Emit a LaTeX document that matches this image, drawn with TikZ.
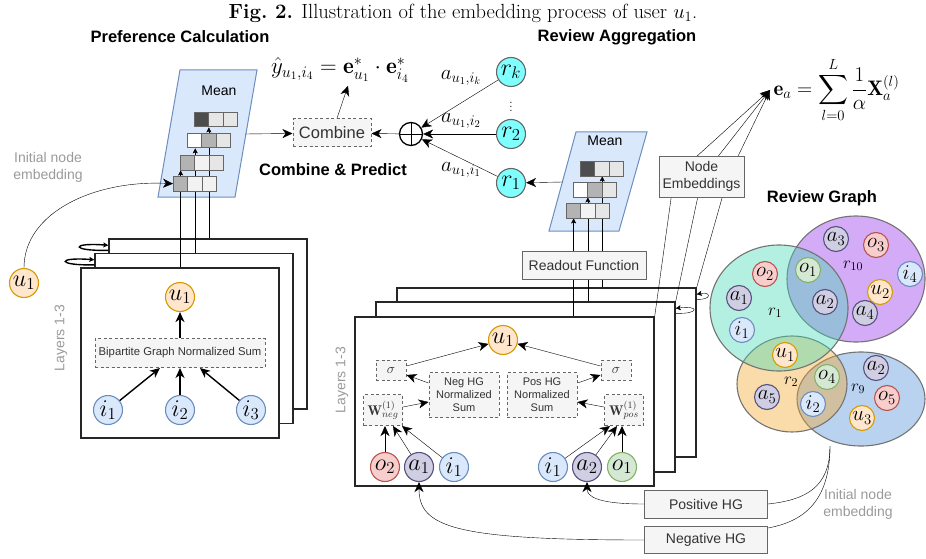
\RequirePackage{fix-cm}
\documentclass[tikz,border=0pt]{standalone}
\usepackage{fontspec}
\usepackage{amsmath}
\usetikzlibrary{arrows.meta}
\newfontfamily\hv{Liberation Sans}
\pgfdeclarelayer{front}
\pgfsetlayers{main,front}
\definecolor{boxgray}{HTML}{666666}
\definecolor{boxfill}{HTML}{F5F5F5}
\definecolor{txtgray}{HTML}{9A9A9A}
\definecolor{meanfill}{HTML}{DAE8FC}
\definecolor{meanline}{HTML}{6C8EBF}
\definecolor{cdark}{HTML}{4D4D4D}
\definecolor{cmid}{HTML}{B3B3B3}
\definecolor{clight}{HTML}{E6E6E6}
\definecolor{cpale}{HTML}{F2F2F2}
\definecolor{ufill}{HTML}{FFE6CC}
\definecolor{uline}{HTML}{D79B00}
\definecolor{ifill}{HTML}{DAE8FC}
\definecolor{iline}{HTML}{6C8EBF}
\definecolor{ofill}{HTML}{F8CECC}
\definecolor{oline}{HTML}{B85450}
\definecolor{gfill}{HTML}{D5E8D4}
\definecolor{gline}{HTML}{82B366}
\definecolor{afill}{HTML}{D0CEE2}
\definecolor{aline}{HTML}{56517E}
\definecolor{rfill}{HTML}{80FFFF}
\definecolor{rgone}{RGB}{67,217,180}
\definecolor{rgten}{RGB}{144,44,233}
\definecolor{rgtwo}{RGB}{242,167,42}
\definecolor{rgnine}{RGB}{80,142,217}

\begin{document}
\begin{tikzpicture}[x=1pt,y=-1pt,line width=1.4pt,
    >={Stealth[length=10pt,width=9pt,inset=3pt]},
    sarr/.style={-{Stealth[length=5pt,width=5pt,inset=1pt]}},
    head/.style={font=\hv\bfseries\fontsize{16.5}{19}\selectfont},
    gtext/.style={font=\hv\fontsize{14}{17}\selectfont,text=txtgray,align=center},
    dbox/.style={draw=boxgray,fill=boxfill,dash pattern=on 3pt off 2.5pt,line width=1pt,inner sep=0pt,text=black!80},
    sbox/.style={draw=boxgray,fill=boxfill,line width=1pt,inner sep=0pt,text=black!80,align=center,font=\hv\fontsize{14}{16.5}\selectfont},
    layer/.style={draw=black!85,fill=white,line width=1.4pt,inner sep=0pt},
    meanbox/.style={draw=meanline,fill=meanfill,line width=1pt},
    cell/.style={draw=boxgray,line width=0.9pt,minimum width=14.3pt,minimum height=14.5pt,inner sep=0pt,anchor=north west},
    nd/.style={circle,line width=1.1pt,minimum size=29pt,inner sep=0pt,font=\fontsize{24}{26}\selectfont},
    unode/.style={nd,draw=uline,fill=ufill},
    inode/.style={nd,draw=iline,fill=ifill},
    onode/.style={nd,draw=oline,fill=ofill},
    gnode/.style={nd,draw=gline,fill=gfill},
    anode/.style={nd,draw=aline,fill=afill},
    rnode/.style={nd,draw=black!60,fill=rfill},
    sm/.style={minimum size=25pt,font=\fontsize{21}{23}\selectfont},
    rset/.style={draw=black!55,line width=1.1pt,fill opacity=0.4}]
  \useasboundingbox (0,0) rectangle (926,559);

  \node (cap) at (463,13) {\fontsize{20.5}{23}\selectfont\textbf{Fig.~2.} Illustration of the embedding process of user $u_1$.};
  \node[head] (hpref) at (180,37) {Preference Calculation};
  \node[head] (hrev) at (617,37) {Review Aggregation};
  \node[head] (hcomb) at (333,170) {Combine \& Predict};
  \node[head] (hgraph) at (822,198) {Review Graph};

  \node[layer,minimum width=198pt,minimum height=170pt] (lback) at (208,324) {};
  \node[layer,minimum width=198pt,minimum height=170pt] (lmid) at (194,338.5) {};
  \node[layer,minimum width=198pt,minimum height=170pt] (lfront) at (180,353) {};
  \draw[sarr] ([yshift=-12pt]lmid.north west) .. controls +(-38,1) and +(-38,-3) .. ([yshift=-7pt]lmid.north west);
  \draw[sarr] ([yshift=-12pt]lback.north west) .. controls +(-38,1) and +(-38,-3) .. ([yshift=-7pt]lback.north west);
  \node[gtext,rotate=90] (llayers) at (61,338) {Layers 1-3};
  \node[unode] (lu1) at (180,297) {$u_1$};
  \node[dbox,minimum width=170pt,minimum height=29pt,font=\hv\fontsize{11.3}{13}\selectfont] (bsum) at (180,353) {Bipartite Graph Normalized Sum};
  \node[inode] (li1) at (108,410) {$i_1$};
  \node[inode] (li2) at (180,410) {$i_2$};
  \node[inode] (li3) at (251,410) {$i_3$};
  \draw[->] (li1) -- ([xshift=-20pt]bsum.south);
  \draw[->] (li2) -- (bsum);
  \draw[->] (li3) -- ([xshift=20pt]bsum.south);
  \draw[->] (bsum) -- (lu1);

  \node[unode] (u1in) at (24,283) {$u_1$};
  \node[gtext] (linit) at (48,167) {Initial node\\embedding};

  \draw[meanbox] (180,70) -- (257,70) -- (235,197) -- (158,197) -- cycle;
  \node[font=\hv\fontsize{14}{16}\selectfont] (lmean) at (219,91) {Mean};
  \begin{pgfonlayer}{front}
    \foreach \r/\x/\y/\ca/\cb/\cc in {1/194/112/cdark/clight/clight,2/187/133/white/cmid/clight,3/180/155/cmid/cpale/clight,4/173/176/cmid/cpale/cpale}{
      \node[cell,fill=\ca] (L\r a) at (\x,\y) {};
      \node[cell,fill=\cb] (L\r b) at (\x+14.3,\y) {};
      \node[cell,fill=\cc] (L\r c) at (\x+28.6,\y) {};
    }
  \end{pgfonlayer}
  \draw[sarr] (lfront.north -| L4a) -- (L3a.south -| L4a);
  \draw[sarr] (lmid.north -| L3a.south east) -- (L2a.south -| L3a.south east);
  \draw[sarr] (lback.north -| L2b) -- (L1a.south -| L2b);
  \draw[->] (u1in.north) .. controls (24,212) and (95,180) .. (L4a.west);
  \coordinate (lmeanout) at (245,134);

  \node[dbox,minimum width=78pt,minimum height=28pt,font=\hv\fontsize{16.5}{18}\selectfont] (comb) at (332,133) {Combine};
  \node[font=\fontsize{23}{25}\selectfont] (pred) at (340,70) {$\hat{y}_{u_1,i_4}=\mathbf{e}^*_{u_1}\cdot\mathbf{e}^*_{i_4}$};
  \draw[->] (lmeanout) -- (comb);
  \draw[->] (comb) -- ([xshift=8pt]pred.south);
  \node[circle,draw,line width=1.3pt,minimum size=23pt,inner sep=0pt] (plus) at (411,134) {};
  \draw (plus.north) -- (plus.south) (plus.west) -- (plus.east);
  \draw[->] (plus) -- (comb);

  \node[rnode] (rk) at (511,72) {$r_k$};
  \node[rnode] (r2) at (511,134) {$r_2$};
  \node[rnode] (r1) at (511,183) {$r_1$};
  \node[font=\fontsize{15}{17}\selectfont,inner sep=0pt] (vdots) at (511,104) {$\vdots$};
  \draw[->] (rk) -- (plus);
  \draw[->] (r2) -- (plus);
  \draw[->] (r1) -- (plus);
  \node[font=\fontsize{21}{23}\selectfont] (ak) at (461,78) {$a_{u_1,i_k}$};
  \node[font=\fontsize{21}{23}\selectfont] (atwo) at (461,121) {$a_{u_1,i_2}$};
  \node[font=\fontsize{21}{23}\selectfont] (aone) at (461,170) {$a_{u_1,i_1}$};

  \node[layer,minimum width=299pt,minimum height=169pt] (mback) at (546.5,372.5) {};
  \node[layer,minimum width=299pt,minimum height=170pt] (mmid) at (525.5,387) {};
  \node[layer,minimum width=299pt,minimum height=169pt] (mfront) at (504.5,401.5) {};
  \draw[sarr] ([yshift=-12pt]mmid.north east) .. controls +(24,1) and +(24,-3) .. ([yshift=-7pt]mmid.north east);
  \draw[sarr] ([yshift=-12pt]mback.north east) .. controls +(15,1) and +(15,-3) .. ([yshift=-7pt]mback.north east);
  \node[gtext,rotate=90] (mlayers) at (342,380) {Layers 1-3};
  \node[unode] (mu1) at (503,340) {$u_1$};
  \node[dbox,minimum width=30pt,minimum height=20pt,font=\fontsize{14}{16}\selectfont] (sigl) at (391,370) {$\sigma$};
  \node[dbox,minimum width=30pt,minimum height=20pt,font=\fontsize{14}{16}\selectfont] (sigr) at (616,370) {$\sigma$};
  \node[dbox,minimum width=70pt,minimum height=45pt,align=center,font=\hv\fontsize{11}{13}\selectfont] (negs) at (464,395) {Neg HG\\Normalized\\Sum};
  \node[dbox,minimum width=70pt,minimum height=45pt,align=center,font=\hv\fontsize{11}{13}\selectfont] (poss) at (542,395) {Pos HG\\Normalized\\Sum};
  \node[dbox,minimum width=39pt,minimum height=31pt,font=\fontsize{14}{16}\selectfont] (wneg) at (383,410) {$\mathbf{W}^{(1)}_{neg}$};
  \node[dbox,minimum width=39pt,minimum height=31pt,font=\fontsize{14}{16}\selectfont] (wpos) at (624,410) {$\mathbf{W}^{(1)}_{pos}$};
  \node[onode] (mo2) at (385,467) {$o_2$};
  \node[anode] (ma1) at (419,467) {$a_1$};
  \node[inode] (mi1) at (454,467) {$i_1$};
  \node[inode] (mi1b) at (553,467) {$i_1$};
  \node[anode] (ma2) at (587,467) {$a_2$};
  \node[gnode] (mo1) at (622,467) {$o_1$};
  \draw[->] (mo2) -- (wneg.south -| mo2);
  \draw[->] (ma1) -- ([xshift=10pt]wneg.south);
  \draw[->] (mi1) -- ([xshift=19pt]wneg.south);
  \draw[->] (mi1b) -- ([xshift=-14pt]wpos.south);
  \draw[->] (ma2) -- ([xshift=-7pt]wpos.south);
  \draw[->] (mo1) -- (wpos.south -| mo1);
  \draw[->] ([yshift=3pt]wneg.east) -- ([yshift=-7pt]negs.west);
  \draw[->] ([yshift=12pt]negs.west) -- ([yshift=-5pt]sigl.east);
  \draw[->] ([yshift=4pt]sigl.east) -- (mu1);
  \draw[->] ([yshift=3pt]wpos.west) -- ([yshift=-7pt]poss.east);
  \draw[->] ([yshift=12pt]poss.east) -- ([yshift=-5pt]sigr.west);
  \draw[->] ([yshift=4pt]sigr.west) -- (mu1);

  \draw[meanbox] (576,132) -- (647,132) -- (619,231) -- (549,231) -- cycle;
  \node[font=\hv\fontsize{14}{16}\selectfont] (rmean) at (605,141) {Mean};
  \begin{pgfonlayer}{front}
    \foreach \r/\x/\y/\ca/\cb/\cc in {1/580/161/cdark/clight/clight,2/573/182/white/cmid/clight,3/566/203/cmid/cpale/clight}{
      \node[cell,fill=\ca] (R\r a) at (\x,\y) {};
      \node[cell,fill=\cb] (R\r b) at (\x+14.3,\y) {};
      \node[cell,fill=\cc] (R\r c) at (\x+28.6,\y) {};
    }
    \node[sbox,minimum width=124pt,minimum height=28pt] (readout) at (584,265) {Readout Function};
    \node[sbox,minimum width=85pt,minimum height=41pt,font=\hv\fontsize{14}{17}\selectfont] (nemb) at (701.5,176.5) {Node\\Embeddings};
  \end{pgfonlayer}
  \draw[sarr] (mfront.north -| R3a) -- (R3a.south);
  \draw[sarr] (mmid.north -| R3b) -- (R2a.south -| R3b);
  \draw[sarr] (mback.north -| R3c) -- (R1a.south -| R3c);
  \coordinate (rmeanout) at (563,182);
  \draw[->] (rmeanout) -- (r1);

  \node[anchor=west,font=\fontsize{21}{23}\selectfont] (eaf) at (770,90) {$\mathbf{e}_a=\displaystyle\sum_{l=0}^{L}\frac{1}{\alpha}\mathbf{X}_a^{(l)}$};
  \coordinate (ne1) at (674,177);
  \coordinate (ne2) at (702,177);
  \coordinate (ne3) at (728,177);
  \draw[->] (mfront.north east) -- (ne1) -- (eaf.west);
  \draw[->] (mmid.north east) -- (ne2) -- (eaf.west);
  \draw[->] (mback.north east) -- (ne3) -- (eaf.west);

  \filldraw[rset,fill=rgnine] (861,399) ellipse [x radius=64,y radius=47];
  \filldraw[rset,fill=rgten] (856,279) ellipse [x radius=69,y radius=63];
  \filldraw[rset,fill=rgtwo] (792,384) ellipse [x radius=55,y radius=48];
  \filldraw[rset,fill=rgone] (779,308) ellipse [x radius=69,y radius=63];
  \node[font=\fontsize{17}{19}\selectfont] (lrone) at (775,313) {$r_1$};
  \node[font=\fontsize{17}{19}\selectfont] (lrten) at (853,266) {$r_{10}$};
  \node[font=\fontsize{17}{19}\selectfont] (lrtwo) at (791,382) {$r_2$};
  \node[font=\fontsize{17}{19}\selectfont] (lrnine) at (858,389) {$r_9$};
  \node[onode,sm] (go2) at (765,274) {$o_2$};
  \node[anode,sm] (ga1) at (739,298) {$a_1$};
  \node[inode,sm] (gi1) at (742,330) {$i_1$};
  \node[gnode,sm] (go1) at (808,270) {$o_1$};
  \node[anode,sm] (ga2) at (825,302) {$a_2$};
  \node[anode,sm] (ga3) at (836,239) {$a_3$};
  \node[onode,sm] (go3) at (876,245) {$o_3$};
  \node[inode,sm] (gi4) at (910,274) {$i_4$};
  \node[unode,sm] (gu2) at (880,292) {$u_2$};
  \node[anode,sm] (ga4) at (865,313) {$a_4$};
  \node[unode,sm] (gu1) at (785,355) {$u_1$};
  \node[gnode,sm] (go4) at (827,377) {$o_4$};
  \node[anode,sm] (ga5) at (767,397) {$a_5$};
  \node[inode,sm] (gi2) at (813,404) {$i_2$};
  \node[anode,sm] (ga2b) at (876,368) {$a_2$};
  \node[onode,sm] (go5) at (887,398) {$o_5$};
  \node[unode,sm] (gu3) at (862,418) {$u_3$};

  \node[sbox,minimum width=123pt,minimum height=28pt] (poshg) at (706,504) {Positive HG};
  \node[sbox,minimum width=123pt,minimum height=27pt] (neghg) at (706,540) {Negative HG};
  \node[gtext] (rinit) at (858,504) {Initial node\\embedding};
  \coordinate (rgout) at (830,446);
  \draw (rgout) .. controls (830,488) and (805,500) .. (poshg.east);
  \draw (rgout) .. controls (830,505) and (800,522) .. ([yshift=-2pt]neghg.north east);
  \draw[->] (poshg.west) .. controls +(-45,0) and +(0,15) .. (ma2.south);
  \draw[->] (neghg.west) .. controls +(-190,0) and +(0,45) .. (ma1.south);
\end{tikzpicture}
\end{document}
